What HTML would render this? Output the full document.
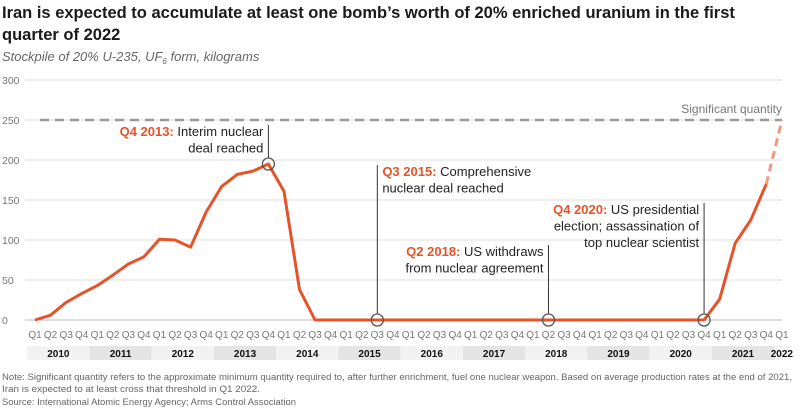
<!DOCTYPE html>
<html><head><meta charset="utf-8"><style>
html,body{margin:0;padding:0;background:#fff;width:800px;height:416px;overflow:hidden}
svg{display:block;font-family:"Liberation Sans",sans-serif}
</style></head><body>
<svg id="c" width="800" height="416" viewBox="0 0 800 416">
<text x="2" y="18" font-size="16.5" font-weight="bold" fill="#1a1a1a">Iran is expected to accumulate at least one bomb’s worth of 20% enriched uranium in the first</text>
<text x="2" y="40" font-size="16.5" font-weight="bold" fill="#1a1a1a">quarter of 2022</text>
<text x="2" y="61" font-size="13" font-style="italic" fill="#666">Stockpile of 20% U-235, UF<tspan font-size="8" dy="3">6</tspan><tspan dy="-3"> form, kilograms</tspan></text>
<g id="grid"></g><g id="xaxis"></g><g id="series"></g><g id="ann"></g>
<text x="2" y="380" font-size="9.5" fill="#666" textLength="790" lengthAdjust="spacingAndGlyphs">Note: Significant quantity refers to the approximate minimum quantity required to, after further enrichment, fuel one nuclear weapon. Based on average production rates at the end of 2021,</text>
<text x="2" y="392" font-size="9.5" fill="#666" textLength="258" lengthAdjust="spacingAndGlyphs">Iran is expected to at least cross that threshold in Q1 2022.</text>
<text x="2" y="405" font-size="9.5" fill="#666" textLength="294" lengthAdjust="spacingAndGlyphs">Source: International Atomic Energy Agency; Arms Control Association</text>
</svg>
<script>
const years=[2010,2011,2012,2013,2014,2015,2016,2017,2018,2019,2020,2021,2022];
const yTicks=[0,50,100,150,200,250,300];
const stockpile=[0,6,22,33,43,56,70,79,101,100,91,135,167,182,186,195,161,38,0,0,0,0,0,0,0,0,0,0,0,0,0,0,0,0,0,0,0,0,0,0,0,0,0,0,26,96,125,170];
const projected=[170,250];
const significantQuantity=250;
const NS='http://www.w3.org/2000/svg';
const x0=35,dx=15.56,yBase=320,yScale=0.8;
const X=i=>x0+i*dx, Y=v=>yBase-v*yScale;
function el(t,a,p,txt){const e=document.createElementNS(NS,t);for(const k in a)e.setAttribute(k,a[k]);if(txt!=null)e.textContent=txt;document.getElementById(p).appendChild(e);return e;}
yTicks.forEach(v=>{
 const l=el('line',{x1:25,x2:782,y1:Y(v),y2:Y(v),stroke:v===0?'#bbb':'#ddd','stroke-width':1},'grid');
 
 
 const t=el('text',{x:2,y:Y(v)+4,'font-size':10.5,fill:'#777'},'grid',String(v));
 
 
});
const sq=el('line',{x1:40,x2:782,y1:Y(significantQuantity),y2:Y(significantQuantity),stroke:'#999','stroke-width':2.5,'stroke-dasharray':'9 6'},'grid');


const sqt=el('text',{x:782,y:Y(significantQuantity)-7,'font-size':12,fill:'#777','text-anchor':'end'},'grid','Significant quantity');


years.forEach((yr,j)=>{
 const nq=yr===2022?1:4;
 const bx=X(j*4)-dx/2, bw=nq*dx;
 const r=el('rect',{x:bx,y:346,width:bw,height:14,fill:j%2===0?'#f2f2f2':'#e4e4e4'},'xaxis');
 
 
 const t=el('text',{x:bx+bw/2,y:357,'font-size':10,'font-weight':'bold',fill:'#111','text-anchor':'middle'},'xaxis',String(yr));
 
 
 for(let q=0;q<nq;q++){
  const qt=el('text',{x:X(j*4+q),y:338,'font-size':10,fill:'#777','text-anchor':'middle'},'xaxis','Q'+(q+1));
  
  
 }
});
const pts=stockpile.map((v,i)=>X(i)+','+Y(v)).join(' ');
const line=el('polyline',{points:pts,fill:'none',stroke:'#e5532a','stroke-width':3,'stroke-linejoin':'round'},'series');


const n=stockpile.length-1;
const pl=el('polyline',{points:projected.map((v,k)=>X(n+k)+','+Y(v)).join(' '),fill:'none',stroke:'#ef9a80','stroke-width':3,'stroke-dasharray':'8 5'},'series');


const anns=[
 {i:15,top:125,name:'q4-2013',lines:[['Q4 2013: ','Interim nuclear'],['','deal reached']],side:'left'},
 {i:22,top:165,name:'q3-2015',lines:[['Q3 2015: ','Comprehensive'],['','nuclear deal reached']],side:'right'},
 {i:33,top:245,name:'q2-2018',lines:[['Q2 2018: ','US withdraws'],['','from nuclear agreement']],side:'left'},
 {i:43,top:203,name:'q4-2020',lines:[['Q4 2020: ','US presidential'],['','election; assassination of'],['','top nuclear scientist']],side:'left'}
];
anns.forEach(a=>{
 const cx=X(a.i),cy=Y(stockpile[a.i]);
 const l=el('line',{x1:cx,x2:cx,y1:a.top,y2:cy-6,stroke:'#333','stroke-width':1},'ann');
 
 
 const c=el('circle',{cx:cx,cy:cy,r:6,fill:'none',stroke:'#555','stroke-width':1.3},'ann');
 
 
 a.lines.forEach((ln,k)=>{
  const tx=a.side==='left'?cx-5:cx+5;
  const t=el('text',{x:tx,y:a.top+11+k*16.5,'font-size':13,fill:'#222','text-anchor':a.side==='left'?'end':'start'},'ann');
  
  
  if(ln[0]){const s=document.createElementNS(NS,'tspan');s.setAttribute('fill','#e5532a');s.setAttribute('font-weight','bold');s.textContent=ln[0];t.appendChild(s);}
  const s2=document.createElementNS(NS,'tspan');s2.textContent=ln[1];t.appendChild(s2);
 });
});
</script>
</body></html>
